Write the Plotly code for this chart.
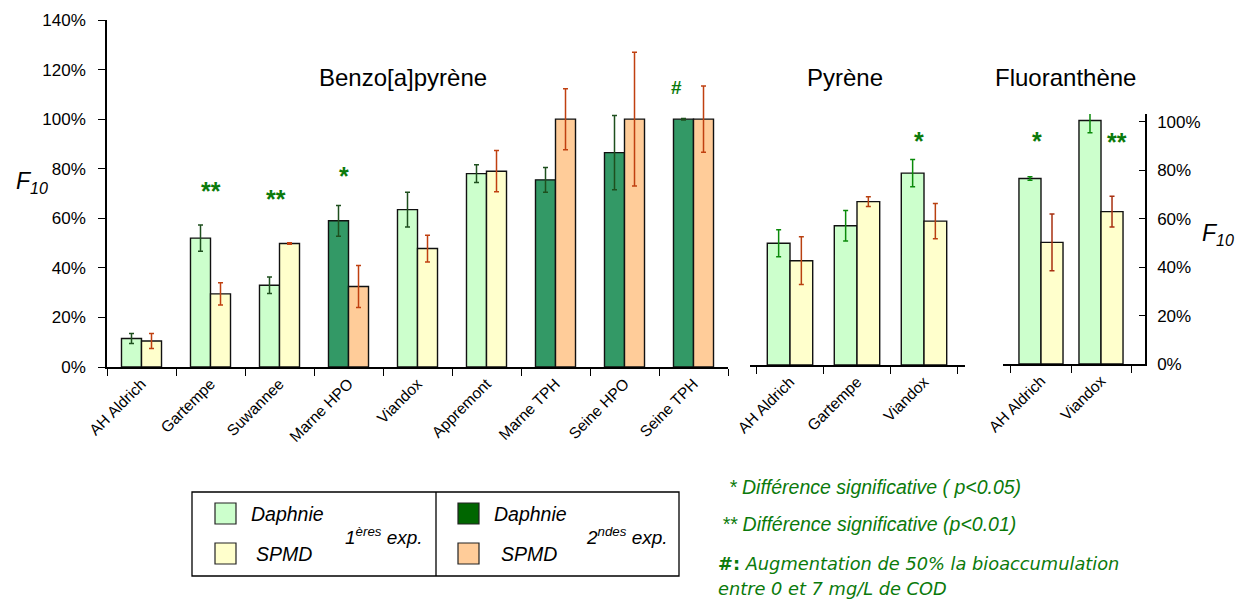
import plotly.graph_objects as go

# ---------------- data ----------------
bap_categories = ["AH Aldrich", "Gartempe", "Suwannee", "Marne HPO", "Viandox",
                  "Appremont", "Marne TPH", "Seine HPO", "Seine TPH"]
bap_experiment = [1, 1, 1, 2, 1, 1, 2, 2, 2]
bap_daphnie = [11.5, 52, 33, 59, 63.5, 78, 75.5, 86.5, 100]
bap_daphnie_err = [2, 5.3, 3.3, 6.2, 7, 3.6, 5, 15, 0.3]
bap_spmd = [10.5, 29.5, 49.8, 32.5, 47.8, 79, 100, 100, 100]
bap_spmd_err = [3, 4.5, 0.3, 8.5, 5.4, 8.3, 12.3, 27, 13.4]
bap_marks = ["", "**", "**", "*", "", "", "", "", "#"]
bap_mark_y = [0, 71.8, 68.5, 78, 0, 0, 0, 0, 112.6]
bap_mark_dx = [0, 0, -0.05, -0.06, 0, 0, 0, 0, -0.25]

pyr_categories = ["AH Aldrich", "Gartempe", "Viandox"]
pyr_daphnie = [49.5, 56.6, 78]
pyr_daphnie_err = [5.5, 6.2, 5.5]
pyr_spmd = [42.4, 66.4, 58.5]
pyr_spmd_err = [9.7, 2, 7.2]
pyr_marks = ["", "", "*"]
pyr_mark_y = [0, 0, 92]
pyr_mark_dx = [0, 0, -0.08]

flu_categories = ["AH Aldrich", "Viandox"]
flu_daphnie = [76.6, 100.5]
flu_daphnie_err = [0.7, 5]
flu_spmd = [50.2, 62.9]
flu_spmd_err = [11.7, 6.3]
flu_marks = ["*", "**"]
flu_mark_y = [92.9, 92.5]
flu_mark_dx = [-0.07, 0.26]

panel_titles = ["Benzo[a]pyrène", "Pyrène", "Fluoranthène"]
y_ticks = [0, 20, 40, 60, 80, 100, 120, 140]
y3_ticks = [0, 20, 40, 60, 80, 100]

# ---------------- style ----------------
W, H = 1246, 602
OFF = 8  # page body margin
FONT = "Liberation Sans"
C_D1, C_S1 = "#CCFFCC", "#FFFFCC"
C_D2, C_S2 = "#339966", "#FFCC99"
GREEN_TXT = "#0B7A0B"


def px(x):
    return (x - OFF) / W


def py(y):
    return 1 - (y - OFF) / H


fig = go.Figure()


def add_pair(cats, d, de, s, se, cd, cs, w, xa, ya, ecol_d, ecol_s):
    fig.add_trace(go.Bar(
        x=cats, y=d, width=w, offset=-w, xaxis=xa, yaxis=ya,
        marker=dict(color=cd, line=dict(color="#111111", width=1.4)),
        error_y=dict(type="data", array=de, color=ecol_d, thickness=1.5, width=2.5),
        showlegend=False, hoverinfo="x+y"))
    fig.add_trace(go.Bar(
        x=cats, y=s, width=w, offset=0, xaxis=xa, yaxis=ya,
        marker=dict(color=cs, line=dict(color="#111111", width=1.4)),
        error_y=dict(type="data", array=se, color=ecol_s, thickness=1.5, width=2.5),
        showlegend=False, hoverinfo="x+y"))


bap_cd = [C_D1 if e == 1 else C_D2 for e in bap_experiment]
bap_cs = [C_S1 if e == 1 else C_S2 for e in bap_experiment]
add_pair(bap_categories, bap_daphnie, bap_daphnie_err, bap_spmd, bap_spmd_err,
         bap_cd, bap_cs, 0.29, "x", "y", "#1E4F1E", "#C04010")
add_pair(pyr_categories, pyr_daphnie, pyr_daphnie_err, pyr_spmd, pyr_spmd_err,
         C_D1, C_S1, 0.339, "x2", "y2", "#0A8A0A", "#B84010")
add_pair(flu_categories, flu_daphnie, flu_daphnie_err, flu_spmd, flu_spmd_err,
         C_D1, C_S1, 0.367, "x3", "y3", "#0A8A0A", "#A83010")

xcommon = dict(type="category", tickson="boundaries", ticks="outside", ticklen=7,
               tickcolor="black", tickwidth=1.3, showline=True, linecolor="black",
               linewidth=1.5, tickangle=-45, showgrid=False, zeroline=False,
               automargin=False,
               tickfont=dict(family=FONT, size=15.5, color="black"), fixedrange=True)

fig.update_layout(
    width=W, height=H, margin=dict(l=0, r=0, t=0, b=0, pad=0, autoexpand=False),
    paper_bgcolor="white", plot_bgcolor="rgba(0,0,0,0)",
    barmode="overlay",
    font=dict(family=FONT, color="black"),
    xaxis=dict(domain=[px(107), px(728)], range=[-0.5, 8.5], anchor="y", **xcommon),
    yaxis=dict(domain=[py(367), py(20)], range=[0, 140], tickmode="array",
               tickvals=y_ticks, ticktext=["%d%%" % v for v in y_ticks],
               ticks="outside", ticklen=7, tickcolor="black", automargin=False,
               ticklabelstandoff=9,
               showline=True, linecolor="black", linewidth=1.5, showgrid=False,
               zeroline=False, tickfont=dict(family=FONT, size=17, color="black"),
               anchor="x", fixedrange=True),
    xaxis2=dict(domain=[px(750), px(965)], range=[-0.597, 2.612], anchor="y2", **xcommon),
    yaxis2=dict(domain=[py(365), py(20.6)], range=[0, 140], visible=False, anchor="x2",
                automargin=False, fixedrange=True),
    xaxis3=dict(domain=[px(1003), px(1145)], range=[-0.633, 1.733], anchor="y3", **xcommon),
    yaxis3=dict(domain=[py(364), py(114)], range=[0, 103.2], tickmode="array",
                tickvals=y3_ticks, ticktext=["%d%%" % v for v in y3_ticks],
                ticks="inside", ticklen=6, tickcolor="black", automargin=False,
                ticklabelstandoff=7,
                side="right", showline=True, linecolor="black", linewidth=1.5,
                showgrid=False, zeroline=False,
                tickfont=dict(family=FONT, size=17, color="black"), anchor="x3",
                fixedrange=True),
)

ann = []
# significance marks
for cats, marks, ys, dxs, xr, yr in [
        (bap_categories, bap_marks, bap_mark_y, bap_mark_dx, "x", "y"),
        (pyr_categories, pyr_marks, pyr_mark_y, pyr_mark_dx, "x2", "y2"),
        (flu_categories, flu_marks, flu_mark_y, flu_mark_dx, "x3", "y3")]:
    for i, (m, yv, dx) in enumerate(zip(marks, ys, dxs)):
        if not m:
            continue
        is_hash = m == "#"
        ann.append(dict(x=i + dx, y=yv, xref=xr, yref=yr, text="<b>%s</b>" % m,
                        showarrow=False, xanchor="center", yanchor="middle",
                        yshift=0 if is_hash else -2,
                        font=dict(family=FONT, size=19 if is_hash else 25, color=GREEN_TXT)))

# panel titles
for t, xc in zip(panel_titles, [403, 845, 1065]):
    ann.append(dict(x=px(xc), y=py(78), xref="paper", yref="paper", text=t,
                    showarrow=False, xanchor="center", yanchor="middle",
                    font=dict(family=FONT, size=24, color="black")))

# F10 labels
ann.append(dict(x=px(14), y=py(182), xref="paper", yref="paper",
                text="<i>F<sub>10</sub></i>", showarrow=False, xanchor="left",
                yanchor="middle", font=dict(family=FONT, size=23, color="black")))
ann.append(dict(x=px(1200), y=py(235), xref="paper", yref="paper",
                text="<i>F<sub>10</sub></i>", showarrow=False, xanchor="left",
                yanchor="middle", font=dict(family=FONT, size=23, color="black")))

# legend
shapes = [
    dict(type="rect", xref="paper", yref="paper", x0=px(192), x1=px(679),
         y0=py(576), y1=py(492), line=dict(color="black", width=1.3), fillcolor="white"),
    dict(type="line", xref="paper", yref="paper", x0=px(436), x1=px(436),
         y0=py(576), y1=py(492), line=dict(color="black", width=1.3)),
]
legend_items = [
    (215, 503, C_D1, "Daphnie", 249, 514),
    (215, 543, C_S1, "SPMD", 254, 554),
    (458, 503, "#006600", "Daphnie", 492, 514),
    (458, 543, C_S2, "SPMD", 499, 554),
]
for x0, y0, col, label, tx, ty in legend_items:
    shapes.append(dict(type="rect", xref="paper", yref="paper", x0=px(x0), x1=px(x0 + 21),
                       y0=py(y0 + 21), y1=py(y0), fillcolor=col,
                       line=dict(color="#222222", width=1.2)))
    ann.append(dict(x=px(tx), y=py(ty), xref="paper", yref="paper", text="<i>%s</i>" % label,
                    showarrow=False, xanchor="left", yanchor="middle",
                    font=dict(family=FONT, size=19.5, color="black")))
ann.append(dict(x=px(343), y=py(536), xref="paper", yref="paper",
                text="<i>1<sup>ères</sup> exp.</i>", showarrow=False, xanchor="left",
                yanchor="middle", font=dict(family=FONT, size=19, color="black")))
ann.append(dict(x=px(584), y=py(536), xref="paper", yref="paper",
                text="<i>2<sup>ndes</sup> exp.</i>", showarrow=False, xanchor="left",
                yanchor="middle", font=dict(family=FONT, size=19, color="black")))

# footnotes
ann.append(dict(x=px(727), y=py(487), xref="paper", yref="paper",
                text="<i>* Différence significative ( p<0.05)</i>", showarrow=False,
                xanchor="left", yanchor="middle",
                font=dict(family=FONT, size=19.5, color=GREEN_TXT)))
ann.append(dict(x=px(720), y=py(524), xref="paper", yref="paper",
                text="<i>** Différence significative (p<0.01)</i>", showarrow=False,
                xanchor="left", yanchor="middle",
                font=dict(family=FONT, size=19.5, color=GREEN_TXT)))
ann.append(dict(x=px(716), y=py(563), xref="paper", yref="paper",
                text="<b>#:</b> <i>Augmentation de 50% la bioaccumulation</i>", showarrow=False,
                xanchor="left", yanchor="middle",
                font=dict(family="DejaVu Sans", size=17.8, color=GREEN_TXT)))
ann.append(dict(x=px(716), y=py(588), xref="paper", yref="paper",
                text="<i>entre 0 et 7 mg/L de COD</i>", showarrow=False,
                xanchor="left", yanchor="middle",
                font=dict(family="DejaVu Sans", size=17.8, color=GREEN_TXT)))

fig.update_layout(annotations=ann, shapes=shapes)
fig.write_html("out.html")
